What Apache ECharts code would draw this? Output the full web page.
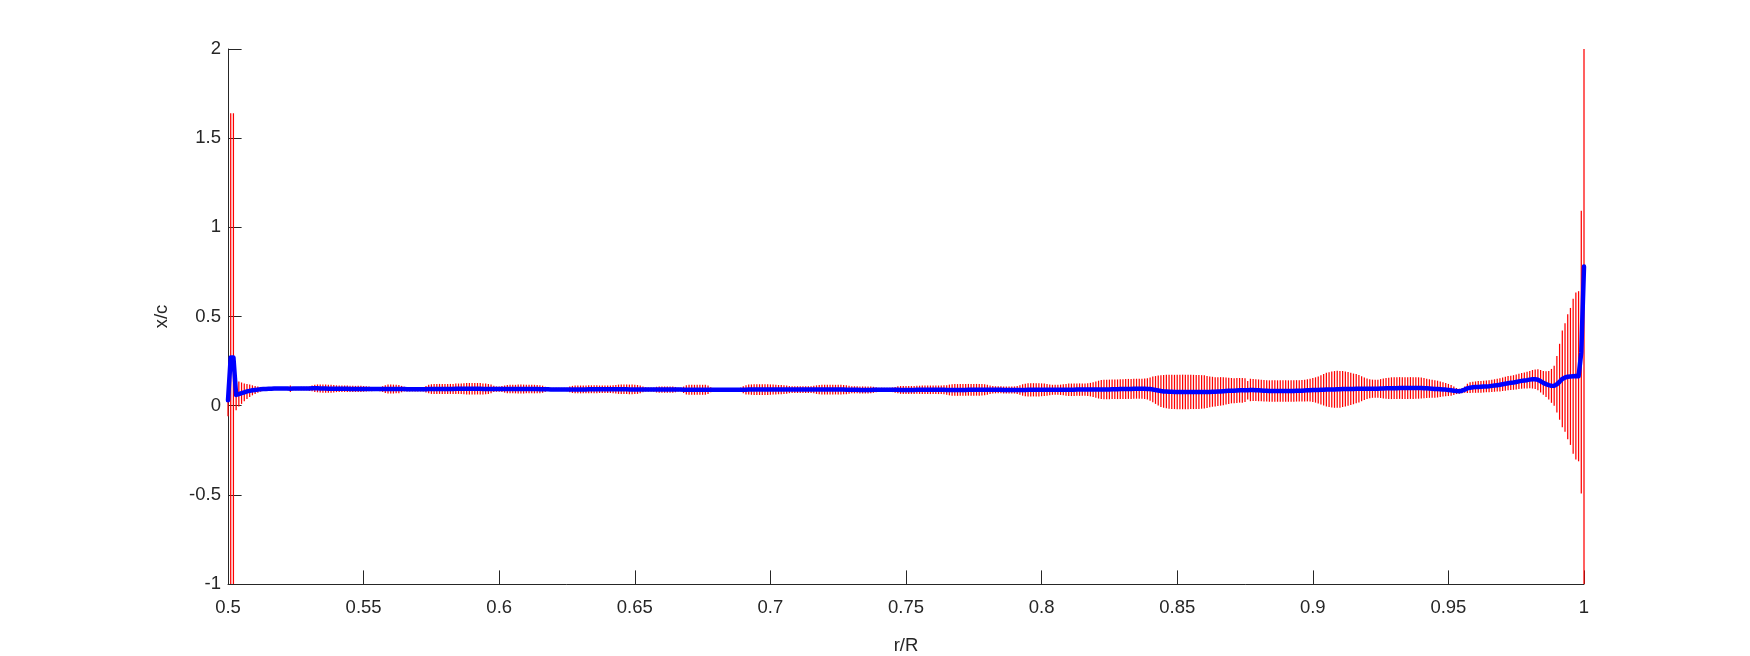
<!DOCTYPE html>
<html>
<head>
<meta charset="utf-8">
<script src="https://cdn.jsdelivr.net/npm/echarts@6/dist/echarts.min.js"></script>
<style>
html,body{margin:0;padding:0;background:#fff;}
#chart{width:1750px;height:656px;}
</style>
</head>
<body>
<div id="chart"></div>
<script>
// r/R grid, in thousandths
const rGrid = [
500,501,502,503,504,505,506,507,508,509,
510,511,512,513,514,515,516,517,518,519,
520,521,522,523,524,525,526,527,528,529,
530,531,532,533,534,535,536,537,538,539,
540,541,542,543,544,545,546,547,548,549,
550,551,552,553,554,555,556,557,558,559,
560,561,562,563,564,565,566,567,568,569,
570,571,572,573,574,575,576,577,578,579,
580,581,582,583,584,585,586,587,588,589,
590,591,592,593,594,595,596,597,598,599,
600,601,602,603,604,605,606,607,608,609,
610,611,612,613,614,615,616,617,618,619,
620,621,622,623,624,625,626,627,628,629,
630,631,632,633,634,635,636,637,638,639,
640,641,642,643,644,645,646,647,648,649,
650,651,652,653,654,655,656,657,658,659,
660,661,662,663,664,665,666,667,668,669,
670,671,672,673,674,675,676,677,678,679,
680,681,682,683,684,685,686,687,688,689,
690,691,692,693,694,695,696,697,698,699,
700,701,702,703,704,705,706,707,708,709,
710,711,712,713,714,715,716,717,718,719,
720,721,722,723,724,725,726,727,728,729,
730,731,732,733,734,735,736,737,738,739,
740,741,742,743,744,745,746,747,748,749,
750,751,752,753,754,755,756,757,758,759,
760,761,762,763,764,765,766,767,768,769,
770,771,772,773,774,775,776,777,778,779,
780,781,782,783,784,785,786,787,788,789,
790,791,792,793,794,795,796,797,798,799,
800,801,802,803,804,805,806,807,808,809,
810,811,812,813,814,815,816,817,818,819,
820,821,822,823,824,825,826,827,828,829,
830,831,832,833,834,835,836,837,838,839,
840,841,842,843,844,845,846,847,848,849,
850,851,852,853,854,855,856,857,858,859,
860,861,862,863,864,865,866,867,868,869,
870,871,872,873,874,875,876,877,878,879,
880,881,882,883,884,885,886,887,888,889,
890,891,892,893,894,895,896,897,898,899,
900,901,902,903,904,905,906,907,908,909,
910,911,912,913,914,915,916,917,918,919,
920,921,922,923,924,925,926,927,928,929,
930,931,932,933,934,935,936,937,938,939,
940,941,942,943,944,945,946,947,948,949,
950,951,952,953,954,955,956,957,958,959,
960,961,962,963,964,965,966,967,968,969,
970,971,972,973,974,975,976,977,978,979,
980,981,982,983,984,985,986,987,988,989,
990,991,992,993,994,995,996,997,998,999,
1000
];

// mean x/c, in thousandths
const xcMean = [
30,270,270,60,65,70,75,80,83,86,
88,90,92,93,94,95,95,96,96,96,
96,96,96,95,96,96,96,96,96,96,
96,97,97,97,96,96,96,95,95,95,
95,95,95,95,95,94,94,94,94,94,
94,94,94,93,93,93,93,93,93,93,
93,93,93,93,93,93,92,92,92,92,
92,92,92,92,93,93,93,93,94,94,
94,94,94,94,95,95,95,95,95,95,
95,95,95,95,94,94,94,94,94,93,
93,93,93,93,93,93,93,93,93,93,
93,93,93,93,93,92,92,92,92,91,
91,91,91,91,91,91,91,91,91,91,
91,91,91,92,92,92,92,92,92,92,
92,92,92,92,92,92,92,92,91,91,
91,91,91,91,91,91,91,90,90,90,
90,90,90,90,90,90,90,90,89,89,
89,89,89,89,89,89,89,89,89,89,
89,89,89,89,89,89,89,89,89,89,
89,89,90,90,90,90,90,90,90,90,
90,90,90,90,90,90,90,90,90,90,
90,90,90,90,90,90,90,90,90,90,
90,90,90,90,90,90,90,90,89,89,
89,89,89,88,88,88,88,88,89,89,
89,89,89,89,89,89,89,89,88,88,
88,88,88,88,89,89,89,89,89,89,
89,89,89,89,89,88,88,88,88,88,
88,88,88,89,89,89,89,89,89,89,
89,89,89,89,89,89,88,88,88,88,
88,88,88,88,88,89,89,89,89,89,
89,89,89,89,89,89,89,89,89,89,
89,89,89,90,90,90,90,90,90,90,
90,90,91,91,91,91,92,92,92,93,
93,94,94,94,95,95,95,95,95,94,
93,91,88,85,82,80,79,78,78,77,
77,77,77,77,77,77,77,77,77,77,
77,77,77,78,78,79,80,81,82,83,
84,84,85,86,86,87,87,88,88,87,
86,85,84,83,82,82,82,82,82,82,
82,82,82,82,83,83,84,85,86,87,
88,88,88,89,89,90,90,91,91,92,
92,93,93,94,94,94,95,95,95,95,
95,95,95,95,95,96,96,97,97,98,
98,98,99,99,99,99,99,99,99,99,
99,98,97,96,95,94,93,92,91,90,
88,86,84,82,81,84,90,97,101,103,
104,105,106,107,108,109,111,113,115,117,
120,123,126,128,130,133,136,139,141,143,
146,148,148,145,137,128,121,115,111,112,
120,134,150,158,162,164,165,166,165,300,
780
];

// error half-width of x/c, in thousandths
const xcErr = [
90,1370,1370,85,70,60,50,42,35,28,
22,17,13,11,10,9,9,8,8,8,
8,8,9,18,9,9,9,10,10,10,
12,16,20,22,22,23,23,22,22,21,
19,18,18,18,18,18,18,17,17,17,
16,15,13,12,11,11,12,16,22,25,
25,25,24,23,18,13,12,12,12,12,
12,12,13,18,24,27,28,28,28,28,
28,28,28,28,29,29,30,31,32,32,
32,32,32,32,31,30,28,24,18,15,
15,17,20,23,24,24,24,25,25,25,
24,24,24,24,23,22,20,14,10,9,
9,9,9,9,9,10,16,20,22,22,
22,22,22,22,22,22,22,21,21,21,
21,21,22,24,26,27,27,27,27,27,
26,25,22,16,12,11,11,12,16,18,
18,18,18,18,17,15,11,10,18,26,
28,28,28,28,28,28,28,24,14,10,
9,9,9,9,9,9,9,9,10,12,
20,26,28,29,30,30,30,30,30,30,
29,28,27,26,26,25,23,20,19,19,
19,19,19,19,19,19,21,24,26,27,
27,27,27,27,27,27,27,26,25,22,
20,20,20,20,20,20,20,19,17,14,
12,12,12,12,12,13,16,20,22,22,
22,22,22,22,22,23,24,24,24,24,
24,24,24,24,25,27,30,32,33,33,
33,33,33,33,33,33,33,33,32,31,
28,24,21,20,20,20,20,20,20,20,
20,22,27,32,35,37,37,37,37,37,
36,35,33,30,28,28,28,29,31,33,
35,35,35,35,35,35,35,36,38,42,
46,50,53,55,55,55,55,55,55,55,
55,56,56,56,56,56,56,56,57,60,
65,72,78,84,89,92,94,95,96,96,
97,97,97,97,97,96,96,95,95,94,
93,90,86,84,82,81,80,78,76,73,
71,70,70,69,69,67,52,63,62,61,
61,60,60,60,60,60,60,60,60,60,
60,60,60,60,60,60,60,61,62,64,
67,71,76,82,88,94,98,101,103,104,
103,101,98,95,90,86,82,77,70,63,
57,53,51,50,51,53,56,58,60,61,
61,61,61,61,61,61,61,61,60,60,
59,57,54,52,50,49,47,44,40,37,
34,30,24,17,14,14,18,26,30,31,
32,33,33,33,33,34,35,35,36,37,
38,39,40,40,41,42,43,44,45,47,
49,52,55,59,63,67,72,80,95,112,
159,213,271,304,351,384,435,468,477,793,
2600
];

const yMin = -1, yMax = 2;
const lineData = rGrid.map((r, i) => [r / 1000, xcMean[i] / 1000]);
const errData = rGrid.map((r, i) => [r / 1000, (xcMean[i] - xcErr[i]) / 1000, (xcMean[i] + xcErr[i]) / 1000]);

const font = "'Liberation Sans', Arial, Helvetica, sans-serif";
const ink = '#262626';

const chart = echarts.init(document.getElementById('chart'), null, {renderer: 'canvas'});
chart.setOption({
  backgroundColor: '#ffffff',
  animation: false,
  grid: {left: 228, top: 49, width: 1356, height: 535, containLabel: false, outerBoundsMode: 'none'},
  xAxis: {
    type: 'value', min: 0.5, max: 1, interval: 0.05,
    name: 'r/R', nameLocation: 'middle', nameGap: 52,
    nameTextStyle: {color: ink, fontSize: 18.5, fontFamily: font},
    axisLine: {show: true, onZero: false, lineStyle: {color: ink, width: 1}},
    axisTick: {show: true, inside: true, length: 13.6, lineStyle: {color: ink, width: 1}},
    axisLabel: {color: ink, fontSize: 18.5, fontFamily: font, margin: 14},
    splitLine: {show: false}
  },
  yAxis: {
    type: 'value', min: yMin, max: yMax, interval: 0.5,
    name: 'x/c', nameLocation: 'middle', nameGap: 57,
    nameTextStyle: {color: ink, fontSize: 18.5, fontFamily: font},
    axisLine: {show: true, onZero: false, lineStyle: {color: ink, width: 1}},
    axisTick: {show: true, inside: true, length: 13.6, lineStyle: {color: ink, width: 1}},
    axisLabel: {color: ink, fontSize: 18.5, fontFamily: font, margin: 7},
    splitLine: {show: false}
  },
  series: [
    {
      type: 'custom',
      name: 'error',
      silent: true,
      z: 2,
      encode: {x: 0, y: [1, 2]},
      data: errData,
      renderItem: function (params, api) {
        const x = api.value(0);
        const lo = Math.max(api.value(1), yMin);
        const hi = Math.min(api.value(2), yMax);
        const p1 = api.coord([x, lo]);
        const p2 = api.coord([x, hi]);
        return {
          type: 'line',
          shape: {x1: p1[0], y1: p1[1], x2: p2[0], y2: p2[1]},
          style: {stroke: '#ff0000', lineWidth: 1.25}
        };
      }
    },
    {
      type: 'line',
      name: 'mean',
      z: 3,
      data: lineData,
      showSymbol: false,
      symbol: 'none',
      clip: false,
      silent: true,
      lineStyle: {color: '#0000ff', width: 4.5, cap: 'round', join: 'round'}
    }
  ]
});
</script>
</body>
</html>
